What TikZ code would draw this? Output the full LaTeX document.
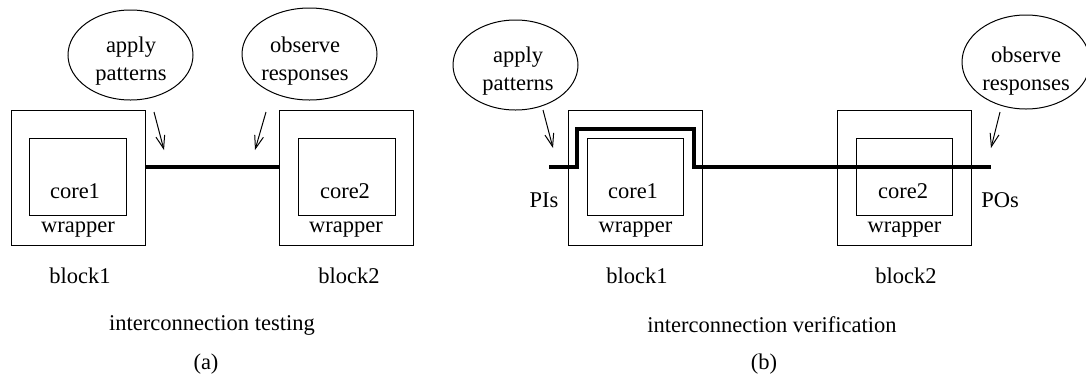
\documentclass[tikz,border=0pt]{standalone}
\usepackage{fontspec}
\setmainfont{Liberation Serif}
\usetikzlibrary{shapes.geometric,arrows.meta,calc}

\tikzset{
  lbl/.style={inner sep=0pt, font=\fontsize{22.5}{28}\selectfont},
  bubble/.style={ellipse, draw, line width=1pt, inner sep=0pt},
  outerbox/.style={draw, line width=1pt, minimum width=134pt, minimum height=135pt, inner sep=0pt},
  corebox/.style={draw, line width=1pt, minimum width=97pt, minimum height=77pt, inner sep=0pt},
  wire/.style={line width=4pt, line join=miter},
  pointer/.style={line width=1pt, -{Straight Barb[length=13pt,width=9pt,line width=1pt]}}
}

\begin{document}
\begin{tikzpicture}[x=1pt, y=-1pt]
\useasboundingbox (0,0) rectangle (1086,376);

% ---------------- (a) interconnection testing ----------------
\node[bubble, minimum width=125pt, minimum height=90pt] (ea) at (130.5,55) {};
\node[lbl, align=center] (ta) at (131,61) {apply\\patterns};
\node[bubble, minimum width=135pt, minimum height=92pt] (eo) at (309.5,54) {};
\node[lbl, align=center] (to) at (305,61) {observe\\responses};

\node[outerbox] (b1a) at (78,177.5) {};
\node[corebox] (c1a) at (77.5,176.5) {};
\node[lbl] (k1a) at (75,191) {core1};
\node[lbl] (w1a) at (78,230) {wrapper};

\node[outerbox] (b2a) at (346,177.5) {};
\node[corebox] (c2a) at (346.5,176.5) {};
\node[lbl] (k2a) at (345,191) {core2};
\node[lbl] (w2a) at (346,230) {wrapper};

\coordinate (la1) at (b1a.east |- 0,167);
\coordinate (la2) at (b2a.west |- 0,167);
\draw[wire] (la1) -- (la2);

\coordinate (pa1s) at (154,112);
\coordinate (pa1e) at (164,150);
\coordinate (pa2s) at (266,112);
\coordinate (pa2e) at (255,150);
\draw[pointer] (pa1s) -- (pa1e);
\draw[pointer] (pa2s) -- (pa2e);

\node[lbl] (n1a) at (80,276) {block1};
\node[lbl] (n2a) at (349,276) {block2};
\node[lbl] (capa) at (212,325) {interconnection testing};
\node[lbl] (suba) at (206,364) {(a)};

% ---------------- (b) interconnection verification ----------------
\node[bubble, minimum width=125pt, minimum height=90pt] (eb) at (515.5,65) {};
\node[lbl, align=center] (tb) at (518,71) {apply\\patterns};
\node[bubble, minimum width=128pt, minimum height=94pt] (ob) at (1026,62) {};
\node[lbl, align=center] (tob) at (1026,71) {observe\\responses};

\node[outerbox] (b1b) at (635.5,177.5) {};
\node[corebox, minimum width=96pt] (c1b) at (635,176.5) {};
\node[lbl] (k1b) at (633,191) {core1};
\node[lbl] (w1b) at (635.5,230) {wrapper};

\node[outerbox] (b2b) at (904.5,177.5) {};
\node[corebox, minimum width=96pt] (c2b) at (904,176.5) {};
\node[lbl] (k2b) at (903,191) {core2};
\node[lbl] (w2b) at (904.5,230) {wrapper};

\node[lbl] (pis) at (544,200) {PIs};
\node[lbl] (pos) at (1000,200) {POs};

% signal path from the primary inputs, looping over core1, through core2 to the outputs
\coordinate (pi) at (549,167);
\coordinate (up1) at (577,167);
\coordinate (up2) at (577,129);
\coordinate (dn1) at (694,129);
\coordinate (dn2) at (694,167);
\coordinate (po) at (991,167);
\draw[wire] (pi) -- (up1) -- (up2) -- (dn1) -- (dn2) -- (po);

\coordinate (pb1s) at (543,110);
\coordinate (pb1e) at (553,148);
\coordinate (pb2s) at (1000,112);
\coordinate (pb2e) at (991,148);
\draw[pointer] (pb1s) -- (pb1e);
\draw[pointer] (pb2s) -- (pb2e);

\node[lbl] (n1b) at (637,276) {block1};
\node[lbl] (n2b) at (906,276) {block2};
\node[lbl] (capb) at (772,325) {interconnection verification};
\node[lbl] (subb) at (764,364) {(b)};
\end{tikzpicture}
\end{document}
